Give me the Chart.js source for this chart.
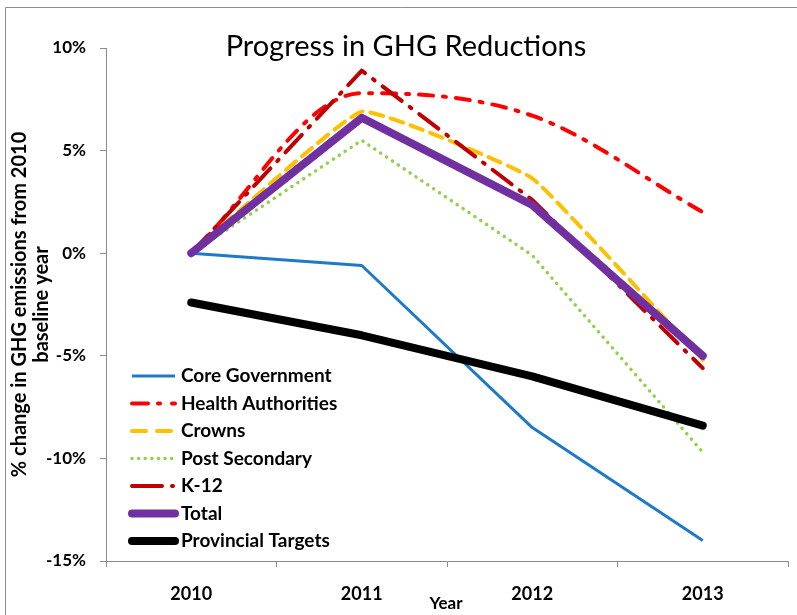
<!DOCTYPE html>
<html>
<head>
<meta charset="utf-8">
<script src="https://cdn.jsdelivr.net/npm/chart.js@4/dist/chart.umd.min.js"></script>
<style>
  html, body { margin: 0; padding: 0; background: #fff; }
  #wrap { width: 797px; height: 615px; position: relative; }
</style>
</head>
<body>
<div id="wrap"><canvas id="ghg" width="797" height="615"></canvas></div>
<script>
// values (% change from 2010)
const years = ['2010', '2011', '2012', '2013'];
const coreGovernment    = [0, -0.6, -8.5, -14.0];
const healthAuthorities = [0, 7.8, 6.7, 2.0];
const crowns            = [0, 6.9, 3.65, -5.2];
const postSecondary     = [0, 5.5, -0.1, -9.7];
const k12               = [0, 8.9, 2.6, -5.6];
const total             = [0, 6.6, 2.35, -5.0];
const provincialTargets = [-2.4, -4.0, -6.0, -8.4];

const FONT = 'Lato, "Liberation Sans", sans-serif';

// title, axis titles, frame and an in-plot legend
const decor = {
  id: 'decor',
  beforeDraw(chart) {
    const ctx = chart.ctx;
    ctx.save();
    ctx.strokeStyle = '#8c8c8c';
    ctx.lineWidth = 1;
    ctx.beginPath();
    ctx.moveTo(5.5, 615);
    ctx.lineTo(5.5, 7.5);
    ctx.lineTo(797, 7.5);
    ctx.stroke();
    ctx.restore();
  },
  afterDraw(chart) {
    const ctx = chart.ctx;
    const a = chart.chartArea;
    ctx.save();
    ctx.fillStyle = '#000';
    ctx.textAlign = 'center';
    ctx.textBaseline = 'middle';

    ctx.font = '29px ' + FONT;
    ctx.fillText('Progress in GHG Reductions', 406, 47);

    ctx.font = 'bold 17px ' + FONT;
    ctx.fillText('Year', 446, 604);

    ctx.save();
    ctx.translate(20, (a.top + a.bottom) / 2);
    ctx.rotate(-Math.PI / 2);
    ctx.font = 'bold 20px ' + FONT;
    ctx.fillText('% change in GHG emissions from 2010', 0, 0);
    ctx.fillText('baseline year', 0, 22);
    ctx.restore();

    // legend
    ctx.textAlign = 'left';
    ctx.font = 'bold 19px ' + FONT;
    chart.data.datasets.forEach((ds, i) => {
      const y = 376 + i * 27.5;
      ctx.save();
      ctx.strokeStyle = ds.borderColor;
      ctx.lineWidth = ds.borderWidth;
      ctx.lineCap = ds.borderCapStyle || 'butt';
      ctx.setLineDash(ds.legendDash || ds.borderDash || []);
      ctx.beginPath();
      ctx.moveTo(132, y);
      ctx.lineTo(175, y);
      ctx.stroke();
      ctx.restore();
      ctx.fillText(ds.label, 181, y);
    });
    ctx.restore();
  }
};

new Chart(document.getElementById('ghg'), {
  type: 'line',
  data: {
    labels: years,
    datasets: [
      { label: 'Core Government', data: coreGovernment, borderColor: '#1f7ac6',
        borderWidth: 3, order: 7 },
      { label: 'Health Authorities', data: healthAuthorities, borderColor: '#ff0000',
        borderWidth: 4, borderDash: [14, 10, 3, 10], borderCapStyle: 'round',
        legendDash: [16, 10, 2, 12], cubicInterpolationMode: 'monotone', order: 6 },
      { label: 'Crowns', data: crowns, borderColor: '#ffc000',
        borderWidth: 4, borderDash: [13, 8], borderCapStyle: 'round',
        legendDash: [14, 11], tension: 0.1, order: 5 },
      { label: 'Post Secondary', data: postSecondary, borderColor: '#92d050',
        borderWidth: 3.5, borderDash: [0.1, 7], borderCapStyle: 'round',
        legendDash: [0.1, 6.5], order: 4 },
      { label: 'K-12', data: k12, borderColor: '#c00000',
        borderWidth: 4, borderDash: [24, 10, 2, 10], borderCapStyle: 'round',
        legendDash: [30, 10, 1, 10], order: 3 },
      { label: 'Total', data: total, borderColor: '#7030a0',
        borderWidth: 8, borderCapStyle: 'round', order: 2 },
      { label: 'Provincial Targets', data: provincialTargets, borderColor: '#000000',
        borderWidth: 8, borderCapStyle: 'round', order: 1 }
    ]
  },
  options: {
    responsive: false,
    animation: false,
    devicePixelRatio: 1,
    layout: { padding: { top: 48, right: 9, left: 0, bottom: 0 } },
    elements: { point: { radius: 0 }, line: { borderJoinStyle: 'round' } },
    plugins: { legend: { display: false }, title: { display: false }, tooltip: { enabled: false } },
    scales: {
      x: {
        offset: true,
        grid: { offset: true, drawOnChartArea: false, drawTicks: true, tickLength: 6, color: '#8c8c8c' },
        border: { color: '#8c8c8c', width: 1 },
        ticks: { color: '#000', padding: 16, font: { family: FONT, size: 18, weight: 'bold' } },
        afterFit(s) { s.height = 54; }
      },
      y: {
        min: -15, max: 10,
        grid: { drawOnChartArea: false, drawTicks: true, tickLength: 6, color: '#8c8c8c' },
        border: { color: '#8c8c8c', width: 1 },
        ticks: { stepSize: 5, color: '#000', padding: 14,
          font: { family: FONT, size: 17, weight: 'bold' },
          callback: v => v + '%' },
        afterFit(s) { s.width = 106; }
      }
    }
  },
  plugins: [decor]
});
</script>
</body>
</html>
